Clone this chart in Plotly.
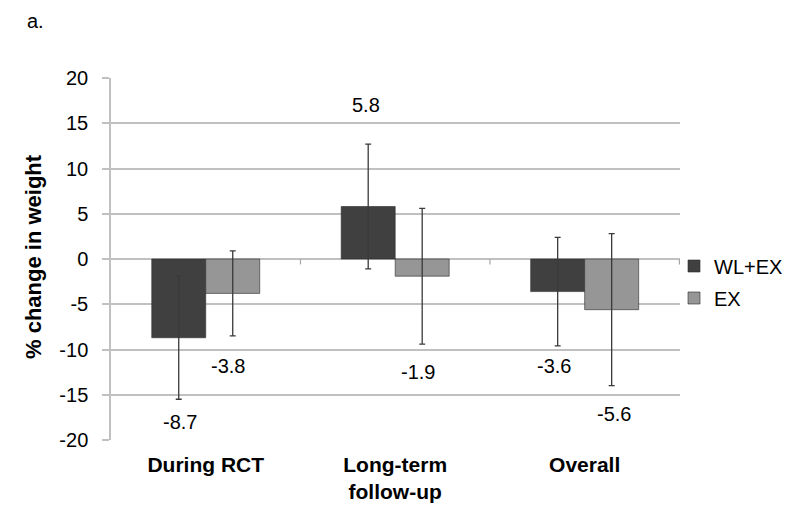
import plotly.graph_objects as go

categories = ["During RCT", "Long-term<br>follow-up", "Overall"]
series_names = ["WL+EX", "EX"]
wlex_values = [-8.7, 5.8, -3.6]
wlex_err = [6.8, 6.9, 6.0]
ex_values = [-3.8, -1.9, -5.6]
ex_err = [4.7, 7.5, 8.4]
y_ticks = [20, 15, 10, 5, 0, -5, -10, -15, -20]

colors = ["#404040", "#969696"]
font_family = "Liberation Sans, Arial, sans-serif"

fig = go.Figure()
for name, vals, errs, col in [
    (series_names[0], wlex_values, wlex_err, colors[0]),
    (series_names[1], ex_values, ex_err, colors[1]),
]:
    fig.add_trace(go.Bar(
        name=name, x=categories, y=vals, legendgroup=name,
        marker=dict(color=col, line=dict(color="#2a2a2a", width=0.6)),
        error_y=dict(type="data", array=errs, visible=True,
                     color="#3a3a3a", thickness=1.3, width=3),
    ))

# value labels placed just beyond the error bar ends (pixel offsets are style only)
label_xshift = [[-26, 22], [-29, 23], [-31, 29]]
label_yshift = [[-10, -17], [26, -15], [-7, -15]]
for si, (vals, errs) in enumerate([(wlex_values, wlex_err), (ex_values, ex_err)]):
    for ci, cat in enumerate(categories):
        v, e = vals[ci], errs[ci]
        if v >= 0:
            yv, anchor = v + e, "bottom"
        else:
            yv, anchor = v - e, "top"
        fig.add_annotation(
            x=cat, y=yv, xref="x", yref="y", text=f"{v:.1f}",
            showarrow=False, xshift=label_xshift[ci][si], yshift=label_yshift[ci][si],
            yanchor=anchor, xanchor="center",
            font=dict(size=20, color="#000000", family=font_family),
        )

# small category-boundary ticks on the zero line
for xb in [0.5, 1.5, 2.5]:
    fig.add_shape(type="line", xref="x", yref="y", x0=xb, x1=xb, y0=0, y1=-0.6,
                  line=dict(color="#a6a6a6", width=1.2))

fig.add_annotation(text="<b>% change in weight</b>", textangle=-90, xref="paper", yref="paper",
                   x=-(103 - 25) / 569, y=(432 - 249) / 362, xanchor="center", yanchor="middle",
                   showarrow=False, font=dict(size=22, family=font_family, color="#000000"))
fig.add_annotation(text="a.", xref="paper", yref="paper", x=-(103 - 17) / 569,
                   y=1 + (70 - 13) / 362, xanchor="left", yanchor="middle", showarrow=False,
                   font=dict(size=20, family=font_family, color="#000000"))

fig.update_layout(
    width=800, height=507,
    margin=dict(l=103, r=128, t=70, b=75),
    paper_bgcolor="white", plot_bgcolor="white",
    barmode="group", bargap=0.43, bargroupgap=0,
    font=dict(family=font_family, size=20, color="#000000"),
    showlegend=True,
    legend=dict(x=(666 - 103) / 569, y=(432 - 274) / 362, xanchor="left", yanchor="middle",
                font=dict(size=20, family=font_family), tracegroupgap=3,
                itemwidth=30, bgcolor="rgba(0,0,0,0)"),
    xaxis=dict(showgrid=False,
               tickfont=dict(size=21, family=font_family, color="#000000", weight="bold"),
               ticks="", ticklabelstandoff=10, showline=False, zeroline=False),
    yaxis=dict(range=[-20, 20], tickvals=y_ticks, ticktext=[str(t) for t in y_ticks],
               showgrid=True, gridcolor="#c0c0c0", gridwidth=1.5,
               zeroline=True, zerolinecolor="#c0c0c0", zerolinewidth=1.5,
               showline=True, linecolor="#c0c0c0", linewidth=1.5,
               ticks="outside", ticklen=7, tickcolor="#c0c0c0", tickwidth=1.5,
               ticklabelstandoff=10,
               tickfont=dict(size=20, family=font_family, color="#000000")),
)

fig.write_html("out.html")
